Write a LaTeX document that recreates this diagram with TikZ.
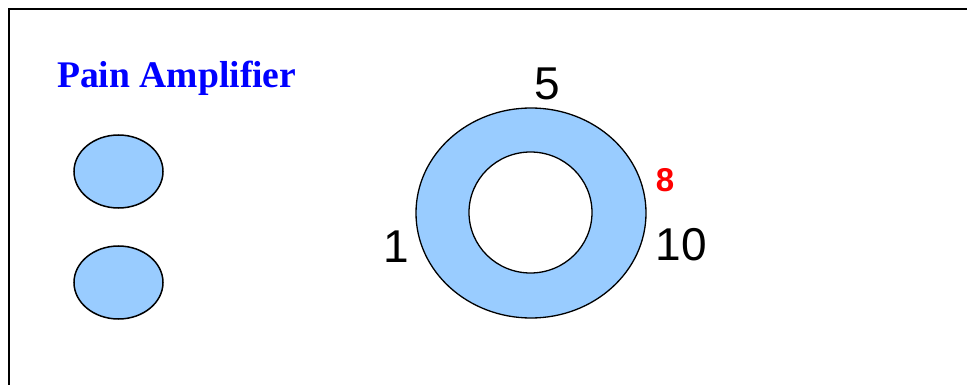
\documentclass[tikz,border=0pt]{standalone}
\usepackage{fontspec}
\usepackage{tikz}
\usetikzlibrary{shapes.geometric}
\newfontfamily\PainSerif{Liberation Serif}
\newfontfamily\PainSans{Liberation Sans}
\definecolor{PainBlue}{HTML}{0000FF}
\definecolor{PainRed}{HTML}{FF0000}
\definecolor{PainFill}{HTML}{99CCFF}
\definecolor{PainDark}{HTML}{000000}
\newcommand{\PainTitle}{\PainSerif\fontsize{37.6}{40}\selectfont\bfseries}
\newcommand{\PainDigit}{\PainSans\fontsize{46}{50}\selectfont}
\newcommand{\PainMark}{\PainSans\fontsize{33}{36}\selectfont\bfseries}
\tikzset{
  knob/.style={
    ellipse,
    draw=PainDark,
    fill=PainFill,
    line width=1.5pt,
    inner sep=0pt,
    minimum width=89pt,
    minimum height=73pt
  },
  dialring/.style={
    ellipse,
    draw=PainDark,
    fill=PainFill,
    line width=1.3pt,
    inner sep=0pt,
    minimum width=230pt,
    minimum height=210pt
  },
  dialhole/.style={
    ellipse,
    draw=PainDark,
    fill=white,
    line width=1.3pt,
    inner sep=0pt,
    minimum width=123pt,
    minimum height=121pt
  },
  scalelabel/.style={
    anchor=base,
    inner sep=0pt,
    text=PainDark,
    font=\PainDigit
  },
  framebar/.style={
    draw=PainDark,
    line width=2.4pt
  }
}

\begin{document}
\begin{tikzpicture}[x=1pt,y=-1pt]
\path[use as bounding box] (0,0) rectangle (967,385);

% panel edge
\coordinate (frameLow) at (9,386);
\coordinate (frameCorner) at (9,9);
\coordinate (frameEnd) at (968,9);
\draw[framebar] (frameLow) -- (frameCorner) -- (frameEnd);

\node[anchor=base west, inner sep=0pt, text=PainBlue, font=\PainTitle] (title) at (57,88) {Pain Amplifier};

% two knobs
\node[knob] (knobtop) at (118.5,171.5) {};
\node[knob] (knobbottom) at (118.5,282.5) {};

% the dial
\node[dialring] (ring) at (531,213) {};
\node[dialhole] (hole) at (530.5,212.5) {};

\node[scalelabel] (lblfive) at (547,100) {5};
\node[scalelabel] (lblone) at (396.5,262) {1};
\node[scalelabel] (lblten) at (681.5,260) {10};
\node[scalelabel, text=PainRed, font=\PainMark] (lbleight) at (665,192) {8};

\end{tikzpicture}
\end{document}
